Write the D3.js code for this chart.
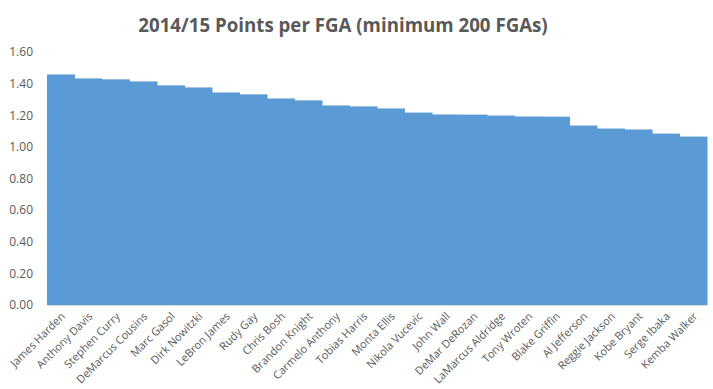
<!DOCTYPE html>
<html>
<head>
<meta charset="utf-8">
<script src="https://cdn.jsdelivr.net/npm/d3@7"></script>
<style>
  body { margin: 0; background: #fff; }
  svg text { font-family: "Open Sans", "Liberation Sans", sans-serif; fill: #595959; }
</style>
</head>
<body>
<svg id="chart" width="713" height="389"></svg>
<script>
var players = ["James Harden", "Anthony Davis", "Stephen Curry", "DeMarcus Cousins", "Marc Gasol",
  "Dirk Nowitzki", "LeBron James", "Rudy Gay", "Chris Bosh", "Brandon Knight", "Carmelo Anthony",
  "Tobias Harris", "Monta Ellis", "Nikola Vucevic", "John Wall", "DeMar DeRozan", "LaMarcus Aldridge",
  "Tony Wroten", "Blake Griffin", "Al Jefferson", "Reggie Jackson", "Kobe Bryant", "Serge Ibaka", "Kemba Walker"];
var pointsPerFga = [1.458, 1.433, 1.427, 1.414, 1.389, 1.376, 1.344, 1.332, 1.306, 1.294, 1.262,
  1.256, 1.243, 1.217, 1.205, 1.204, 1.198, 1.192, 1.191, 1.135, 1.116, 1.110, 1.084, 1.065];
var yTicks = [0, 0.2, 0.4, 0.6, 0.8, 1.0, 1.2, 1.4, 1.6];

(function(d3) {
  var svg = d3.select("#chart"),
      margin = {top: 52, right: 6, bottom: 84, left: 47},
      width = 713 - margin.left - margin.right,
      height = 389 - margin.top - margin.bottom,
      g = svg.append("g").attr("transform", "translate(" + margin.left + "," + margin.top + ")");

  var x = d3.scaleBand().domain(players).range([0, width]).padding(0),
      y = d3.scaleLinear().domain([0, 1.6]).range([height, 0]);

  svg.append("text")
    .attr("x", 343)
    .attr("y", 32)
    .attr("text-anchor", "middle")
    .style("font-size", "18.7px")
    .style("font-weight", "bold")
    .text("2014/15 Points per FGA (minimum 200 FGAs)");

  // bars, no gap between them
  g.selectAll(".bar")
    .data(players)
    .enter().append("rect")
      .attr("class", "bar")
      .attr("x", function(d) { return x(d); })
      .attr("width", x.bandwidth() + 0.5)
      .attr("y", function(d, i) { return y(pointsPerFga[i]); })
      .attr("height", function(d, i) { return height - y(pointsPerFga[i]); })
      .attr("fill", "#5B9BD5");

  var yAxis = g.append("g")
    .call(d3.axisLeft(y).tickValues(yTicks).tickSize(0).tickPadding(14).tickFormat(d3.format(".2f")));
  yAxis.select(".domain").remove();
  yAxis.selectAll("text").style("font-size", "12px").attr("fill", "#595959");

  var xAxis = g.append("g")
    .attr("transform", "translate(0," + height + ")")
    .call(d3.axisBottom(x).tickSize(0).tickPadding(0));
  xAxis.select(".domain").attr("stroke", "#D9D9D9");
  xAxis.selectAll("text")
    .style("font-size", "11px")
    .attr("fill", "#595959")
    .attr("text-anchor", "end")
    .attr("dy", null)
    .attr("y", 0)
    .attr("transform", "translate(5,12) rotate(-45)");
})(window.d3);
</script>
</body>
</html>
